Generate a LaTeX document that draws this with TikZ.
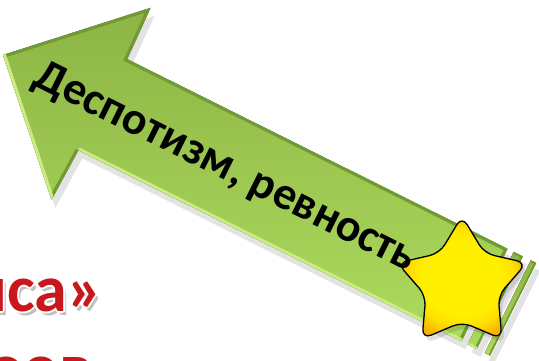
\documentclass[tikz,border=0pt]{standalone}
\usepackage{fontspec}
\setmainfont{Carlito}
\begin{document}
\begin{tikzpicture}[x=1pt,y=1pt]
\definecolor{agreenT}{HTML}{8CB544}
\definecolor{agreenB}{HTML}{AEDA5E}
\definecolor{adark}{HTML}{729A32}
\definecolor{alight}{HTML}{CBEC82}
\definecolor{sy1}{HTML}{FFF000}
\definecolor{sy1b}{HTML}{FFE000}
\definecolor{sy2}{HTML}{F4B400}
\definecolor{rtxt}{HTML}{C8181E}
\pgfdeclareradialshading{starshade}{\pgfpoint{0bp}{0bp}}{color(0bp)=(sy1); color(15bp)=(sy1); color(20bp)=(sy1b); color(25bp)=(sy2); color(50bp)=(sy2)}
\tikzset{
 redtxt/.style={font=\bfseries\fontsize{66}{66}\selectfont, inner sep=0pt, anchor=base east},
 arrowtxt/.style={font=\bfseries\fontsize{46}{46}\selectfont, inner sep=0pt},
 bodyfill/.style={top color=agreenT, bottom color=agreenB},
 darkedge/.style={adark, line width=6pt, line join=miter},
 lightedge/.style={alight, line width=6pt, line join=miter},
 shadowfill/.style={black, opacity=0.11},
 starpath/.style={rounded corners=10pt},
}
\useasboundingbox (0,0) rectangle (539,-361);
\clip (0,0) rectangle (539,-361);

% ---- red text (partly off the picture) ----
\node[redtxt, text=black, opacity=0.25, xshift=3, yshift=-4] (redAs) at (103,-311) {иса»};
\node[redtxt, text=black, opacity=0.25, xshift=3, yshift=-4] (redBs) at (92,-389) {оов};
\foreach \a in {0,45,...,315}{
  \node[redtxt, text=white, shift={(\a:2.3)}] (redAh\a) at (103,-311) {иса»};
  \node[redtxt, text=white, shift={(\a:2.3)}] (redBh\a) at (92,-389) {оов};
}
\node[redtxt, text=rtxt] (redA) at (103,-311) {иса»};
\node[redtxt, text=rtxt] (redB) at (92,-389) {оов};

% ---- arrow shadow ----
\begin{scope}[shift={(7,-63)}, rotate=-26.5]
  \fill[shadowfill] (0,0) -- (111,108) -- (113,51.7) -- (538,51.7) -- (538,-51.7) -- (110,-51.7) -- (108,-108) -- cycle;
  \fill[shadowfill] (545,-51.7) rectangle (555,51.7);
  \fill[shadowfill] (564,-51.7) rectangle (570,51.7);
\end{scope}

% ---- arrow ----
\begin{scope}[shift={(3,-55)}, rotate=-26.5]
  \coordinate (T) at (0,0);
  \coordinate (UC) at (111,108);
  \coordinate (UN) at (113,51.7);
  \coordinate (UE) at (538,51.7);
  \coordinate (LE) at (538,-51.7);
  \coordinate (LN) at (110,-51.7);
  \coordinate (LC) at (108,-108);
  \fill[bodyfill] (T) -- (UC) -- (UN) -- (UE) -- (LE) -- (LN) -- (LC) -- cycle;
  \begin{scope}
    \clip (T) -- (UC) -- (UN) -- (UE) -- (LE) -- (LN) -- (LC) -- cycle;
    \draw[darkedge] (T) -- (UC) -- (UN) -- (UE) -- (LE);
    \draw[lightedge] (LE) -- (LN);
    \draw[darkedge] (LN) -- (LC);
    \draw[lightedge] (LC) -- (T);
  \end{scope}
  % stripes
  \coordinate (S1a) at (545,-51.7);
  \coordinate (S1b) at (555,51.7);
  \coordinate (S2a) at (564,-51.7);
  \coordinate (S2b) at (570,51.7);
  \fill[bodyfill] (S1a) rectangle (S1b);
  \fill[bodyfill] (S2a) rectangle (S2b);
  \begin{scope}
    \clip (S1a) rectangle (S1b);
    \draw[adark, line width=4pt] (545,51.7) -- (S1b) -- (555,-51.7);
    \draw[alight, line width=4pt] (S1a) -- (555,-51.7);
  \end{scope}
  \begin{scope}
    \clip (S2a) rectangle (S2b);
    \draw[adark, line width=3pt] (564,51.7) -- (S2b) -- (570,-51.7);
  \end{scope}
\end{scope}

% ---- star ----
\begin{scope}[shift={(462,-284)}]
  \fill[shadowfill, starpath, shift={(3,-5)}] (11.17,49.37) -- (90:68) -- (126:38) -- (162:68) -- (198:38) -- (234:68) -- (270:38) -- (306:68) -- (342:38) -- (18:68) -- (54:38) -- cycle;
  \draw[black, line width=1.3pt, starpath, shading=starshade] (11.17,49.37) -- (90:68) -- (126:38) -- (162:68) -- (198:38) -- (234:68) -- (270:38) -- (306:68) -- (342:38) -- (18:68) -- (54:38) -- cycle;
\end{scope}

% ---- label ----
\node[arrowtxt, rotate=-26.5] (lbl) at (225,-168) {Деспотизм, ревность};
\end{tikzpicture}
\end{document}
